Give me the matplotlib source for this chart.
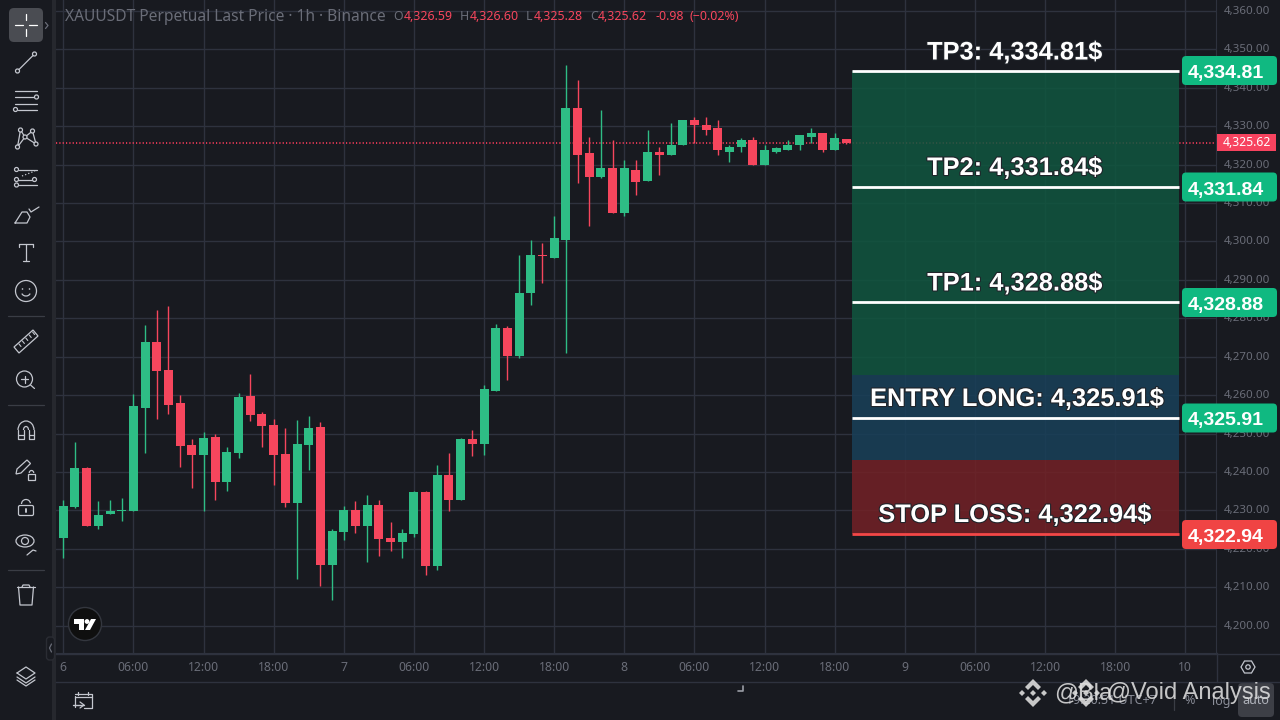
import matplotlib
matplotlib.use('Agg')
import matplotlib.pyplot as plt
import matplotlib.patheffects as pe
from matplotlib.patches import FancyBboxPatch, Rectangle, Circle, Polygon, Ellipse, Arc
from matplotlib.transforms import ScaledTranslation

# candles (1h bars)
opens = [4222.9, 4230.9, 4241.1, 4226.0, 4229.1, 4229.9, 4229.9, 4256.7, 4273.9, 4266.6,
         4258.0, 4247.1, 4244.5, 4249.2, 4237.4, 4245.0, 4259.8, 4255.1, 4252.3, 4244.7,
         4232.0, 4247.1, 4251.7, 4215.8, 4224.4, 4230.1, 4226.0, 4231.5, 4222.9, 4221.8,
         4223.9, 4234.8, 4215.6, 4239.3, 4232.8, 4248.6, 4247.3, 4261.1, 4277.5, 4270.1,
         4286.5, 4296.4, 4295.8, 4300.5, 4334.6, 4322.9, 4316.9, 4319.0, 4307.5, 4318.7,
         4315.6, 4323.4, 4322.4, 4325.0, 4331.5, 4330.4, 4329.4, 4323.4, 4324.5, 4326.5,
         4320.0, 4323.4, 4323.9, 4325.0, 4327.3, 4328.1, 4323.7, 4326.59]
highs = [4232.8, 4247.8, 4241.3, 4232.5, 4232.8, 4233.3, 4260.3, 4278.3, 4282.2, 4283.2,
         4260.1, 4248.6, 4250.5, 4249.9, 4246.5, 4260.6, 4265.5, 4255.7, 4253.8, 4251.5,
         4253.6, 4254.6, 4253.1, 4225.2, 4231.2, 4232.5, 4234.1, 4232.8, 4227.0, 4225.2,
         4235.1, 4235.1, 4241.9, 4245.0, 4248.9, 4250.9, 4262.6, 4278.5, 4278.0, 4296.4,
         4300.5, 4299.5, 4306.5, 4345.8, 4341.9, 4327.3, 4334.3, 4326.3, 4321.1, 4321.3,
         4329.1, 4324.7, 4330.7, 4331.5, 4332.3, 4332.3, 4331.5, 4325.2, 4326.8, 4327.3,
         4325.0, 4324.7, 4326.3, 4327.8, 4329.4, 4328.1, 4328.1, 4326.60]
lows = [4217.7, 4230.7, 4226.0, 4225.2, 4229.1, 4227.3, 4229.9, 4245.0, 4253.8, 4255.1,
        4241.3, 4235.9, 4229.9, 4232.8, 4235.1, 4243.7, 4253.3, 4246.5, 4236.7, 4230.9,
        4212.2, 4240.6, 4210.4, 4206.7, 4222.4, 4224.2, 4216.6, 4218.2, 4219.5, 4217.7,
        4223.1, 4213.2, 4214.5, 4229.9, 4232.8, 4244.2, 4244.4, 4261.1, 4264.0, 4269.6,
        4283.4, 4289.1, 4295.8, 4271.1, 4315.1, 4303.9, 4316.4, 4307.3, 4306.5, 4312.0,
        4315.6, 4317.2, 4322.4, 4325.0, 4325.5, 4327.8, 4322.6, 4320.6, 4323.4, 4319.8,
        4319.8, 4322.9, 4323.9, 4323.9, 4325.5, 4323.4, 4323.7, 4325.28]
closes = [4231.2, 4241.1, 4226.0, 4228.9, 4229.9, 4230.1, 4257.2, 4273.9, 4266.3, 4257.5,
          4246.8, 4244.5, 4248.9, 4237.4, 4245.2, 4259.6, 4254.9, 4252.0, 4244.5, 4232.0,
          4247.3, 4251.5, 4215.8, 4224.7, 4230.1, 4226.0, 4231.5, 4222.6, 4221.8, 4224.2,
          4234.8, 4215.6, 4239.3, 4232.8, 4248.6, 4247.3, 4261.6, 4277.5, 4270.2, 4286.7,
          4296.4, 4296.1, 4300.8, 4334.6, 4322.4, 4316.9, 4319.0, 4307.5, 4319.0, 4315.4,
          4323.4, 4322.4, 4325.2, 4331.5, 4330.2, 4329.1, 4323.9, 4324.7, 4326.5, 4320.0,
          4323.7, 4324.2, 4325.2, 4327.6, 4328.1, 4323.7, 4326.8, 4325.62]
last_price = 4325.62

price_ticks = list(range(4200, 4370, 10))
time_pos = list(range(0, 102, 6))
time_labels = ['6', '06:00', '12:00', '18:00', '7', '06:00', '12:00', '18:00', '8',
               '06:00', '12:00', '18:00', '9', '06:00', '12:00', '18:00', '10']

# trade levels: where they sit on the price scale and what they are labelled
level_pos = [4344.4, 4314.2, 4284.2, 4254.1, 4223.9]
level_names = ['TP3', 'TP2', 'TP1', 'ENTRY LONG', 'STOP LOSS']
level_text = ['4,334.81', '4,331.84', '4,328.88', '4,325.91', '4,322.94']
zone_edges = [4344.4, 4265.3, 4243.1, 4223.9]

BG = '#181a20'
GRID = '#2e323e'
UP = '#2ebd85'
DOWN = '#f6465d'
MUTED = '#6a6d78'
ICON = '#c4c7cf'
FONT = 'Noto Sans'

fig = plt.figure(figsize=(12.8, 7.2), dpi=100, facecolor=BG)

# pixel box of the price pane
left, right, bottom = 56, 1216.3, 653.3
ax = fig.add_axes([left / 1280, (720 - bottom) / 720, (right - left) / 1280, bottom / 720])
ax.set_facecolor(BG)
x0, step = 63.3, 11.6875
ax.set_xlim((left - x0) / step, (right - x0) / step)
ax.set_ylim(4350 - (bottom - 49.3) / 3.843, 4350 + 49.3 / 3.843)

ax.set_axisbelow(True)
ax.grid(True, color=GRID, lw=1)
for s in ax.spines.values():
    s.set_visible(False)
ax.spines['right'].set_visible(True)
ax.spines['right'].set_color(GRID)
ax.spines['bottom'].set_visible(True)
ax.spines['bottom'].set_color(GRID)

ax.set_xticks(time_pos, time_labels, color=MUTED, fontsize=8.8, fontfamily=FONT)
ax.tick_params(axis='x', length=0, pad=5.5)
ax.yaxis.tick_right()
ax.set_yticks(price_ticks, [f'{p:,.2f}' for p in price_ticks], color=MUTED,
              fontsize=8.3, fontfamily=FONT, ha='right')
ax.tick_params(axis='y', length=0, pad=39)
# the price labels sit a little above their grid lines
nudge = ScaledTranslation(0, 1.0 / 100, fig.dpi_scale_trans)
for lab in ax.get_yticklabels():
    lab.set_transform(lab.get_transform() + nudge)

# candles
for i in range(len(opens)):
    c = UP if closes[i] >= opens[i] else DOWN
    ax.vlines(i, lows[i], highs[i], color=c, lw=1, zorder=3)
    ax.bar(i, max(abs(closes[i] - opens[i]), 0.3), bottom=min(opens[i], closes[i]),
           width=0.77, color=c, zorder=4)

# last price line
ax.axhline(last_price, color='#ff3d5c', lw=1.2, ls=(0, (0.7, 1.3)), zorder=2)

# position boxes, translucent so the grid shows through
box_l = (852 - x0) / step
box_r = (1179 - x0) / step
zone_colors = ['#10563f', '#184059', '#732126']
for i in range(3):
    ax.fill_between([box_l, box_r], zone_edges[i + 1], zone_edges[i], color=zone_colors[i],
                    alpha=0.85, lw=0, zorder=5)
for i in range(5):
    ax.hlines(level_pos[i], box_l, box_r, color='white' if i < 4 else '#f44747', lw=2, zorder=6)

# everything else is drawn in pixels on a full size overlay
ui = fig.add_axes([0, 0, 1, 1], zorder=10)
ui.set_xlim(0, 1280)
ui.set_ylim(720, 0)
ui.axis('off')
ui.patch.set_alpha(0)

label_ys = [59.5, 175, 290.5, 406, 522]
label_xs = [1014.7, 1014.7, 1014.7, 1017, 1014.7]
badge_ys = [70.5, 187, 302.5, 418, 534.5]
for i in range(5):
    ui.text(label_xs[i], label_ys[i], f'{level_names[i]}: {level_text[i]}$', color='white',
            fontsize=18.3, fontweight='bold', family='Liberation Sans', ha='center', va='baseline',
            path_effects=[pe.withStroke(linewidth=1.6, foreground='#20242a')])
    col = '#10b981' if i < 4 else '#f04444'
    ui.add_patch(FancyBboxPatch((1184, badge_ys[i] - 12.5), 91, 25,
                                boxstyle='round,pad=2,rounding_size=4', fc=col, ec='none'))
    ui.text(1188, badge_ys[i] + 3, level_text[i], color='white', fontsize=14,
            fontweight='bold', family='Liberation Sans', ha='left', va='center')

# last price tag
ui.add_patch(Rectangle((1217, 134), 59, 16.8, fc='#f7435f', ec='none'))
ui.text(1246.5, 142.6, f'{last_price:,.2f}', color='white', fontsize=8.8, fontweight='bold',
        family=FONT, ha='center', va='center')

# header
ui.text(65, 17, 'XAUUSDT Perpetual Last Price · 1h · Binance', color=MUTED, fontsize=11.2,
        family=FONT, ha='left', va='center')
header = [(393, 'O', MUTED), (404, '4,326.59', DOWN), (460, 'H', MUTED), (470, '4,326.60', DOWN),
          (526, 'L', MUTED), (534, '4,325.28', DOWN), (590, 'C', MUTED), (598, '4,325.62', DOWN),
          (656, '-0.98', DOWN), (690, '(−0.02%)', DOWN)]
for hx, htxt, hcol in header:
    ui.text(hx, 16, htxt, color=hcol, fontsize=8.9, family=FONT, ha='left', va='center')

# toolbar frame
ui.add_patch(Rectangle((52, 0), 4, 720, fc='#26282e', ec='none'))
ui.plot([56, 1280], [653.5, 653.5], color=GRID, lw=1)
ui.plot([56, 1280], [681.5, 681.5], color=GRID, lw=1)
ui.plot([1216.5, 1216.5], [653, 681.5], color=GRID, lw=1)


def ln(xs, ys, lw=0.9, c=ICON, **kw):
    ui.plot(xs, ys, color=c, lw=lw, solid_capstyle='round', **kw)


def dot(x, y, r=2.0):
    ui.add_patch(Circle((x, y), r, fc=BG, ec=ICON, lw=0.9, zorder=5))


def diamond(cx, cy, r, **kw):
    ui.add_patch(Polygon([(cx - r, cy), (cx, cy - r), (cx + r, cy), (cx, cy + r)], closed=True, **kw))


# selected crosshair button
ui.add_patch(FancyBboxPatch((12, 11), 28, 28, boxstyle='round,pad=3,rounding_size=5',
                            fc='#4a4c52', ec='none'))
for a, b in [((15, 23), (25, 25)), ((29, 37), (25, 25))]:
    ln(a, b, c='white')
for a, b in [((26, 26), (14, 20)), ((26, 26), (29, 36))]:
    ln(a, b, c='white')
ln([45.5, 48, 45.5], [22.5, 25.5, 28.5], c='#6a6d78')

# line
ln([17.5, 34.5], [71, 54])
dot(17.5, 71)
dot(34.5, 54)
# fib
ln([15, 37], [91, 91])
ln([15, 35], [97, 97])
ln([15, 37], [103.5, 103.5])
ln([18, 37], [109.5, 109.5])
dot(36.5, 97)
dot(15.5, 109.5)
# pattern
px = [17.5, 20.5, 25, 32.5, 36, 25, 17.5]
py = [147, 130, 137, 131, 144, 137, 147]
ln(px, py)
for a, b in zip(px[:5], py[:5]):
    dot(a, b)
# forecast
ln([19, 37], [169.5, 169.5])
ln([16, 35], [179.5, 179.5])
ln([19, 37], [185, 185])
ln([22, 35], [176, 171], ls=':')
for a, b in [(16.5, 169.5), (16.5, 179.5), (34.5, 179.5), (16.5, 185)]:
    dot(a, b)
# brush
ln([15, 27, 30, 27, 22, 15], [223, 223, 217, 212, 212, 223])
ln([29, 31, 39], [209, 212, 207])
# text
ln([19, 33], [244, 244])
ln([26, 26], [244, 261])
ln([23, 29], [261, 261])
ln([19, 19], [244, 247])
ln([33, 33], [244, 247])
# emoji
ui.add_patch(Circle((26, 291), 10.5, fc='none', ec=ICON, lw=0.9))
ui.add_patch(Circle((22.5, 289), 0.8, fc=ICON, ec='none'))
ui.add_patch(Circle((29.5, 289), 0.8, fc=ICON, ec='none'))
ui.add_patch(Arc((26, 292), 9, 8, theta1=20, theta2=160, ec=ICON, lw=0.9))
ln([8, 44], [316, 316], c='#3a3d45')
# ruler
ui.add_patch(Polygon([(14, 347), (33, 330), (38, 336), (19, 353)], closed=True, fc='none', ec=ICON, lw=0.9))
for t in range(5):
    ln([19 + t * 3.4, 21 + t * 3.4], [344 - t * 3, 346.5 - t * 3], lw=0.8)
# zoom
ui.add_patch(Circle((24.5, 379), 8, fc='none', ec=ICON, lw=0.9))
ln([21, 28], [379, 379])
ln([24.5, 24.5], [375.5, 382.5])
ln([30.5, 34.5], [385, 388.5])
ln([8, 44], [405, 405], c='#3a3d45')
# magnet
ui.add_patch(Arc((26, 430), 16, 18, theta1=180, theta2=360, ec=ICON, lw=0.9))
ui.add_patch(Arc((26, 430), 5, 7, theta1=180, theta2=360, ec=ICON, lw=0.9))
ln([18, 18, 23.5, 23.5], [430, 439, 439, 430])
ln([28.5, 28.5, 34, 34], [430, 439, 439, 430])
ln([18, 23.5], [435, 435])
ln([28.5, 34], [435, 435])
# pencil with lock
ui.add_patch(Polygon([(16, 474), (17, 469), (27, 460), (30.5, 463.5), (21, 473)], closed=True,
                     fc='none', ec=ICON, lw=0.9))
ui.add_patch(Rectangle((28, 474), 7, 5.5, fc='none', ec=ICON, lw=0.9))
ui.add_patch(Arc((31.5, 473), 4.5, 5, theta1=180, theta2=360, ec=ICON, lw=0.9))
# unlock
ui.add_patch(FancyBboxPatch((19, 506), 14, 9, boxstyle='round,pad=0.5,rounding_size=1.5',
                            fc='none', ec=ICON, lw=0.9))
ui.add_patch(Arc((26, 504), 9, 9, theta1=180, theta2=350, ec=ICON, lw=0.9))
ln([26, 26], [509, 511.5], lw=1.4)
# eye
ui.add_patch(Ellipse((25, 541), 18, 12, fc='none', ec=ICON, lw=0.9))
ui.add_patch(Circle((25, 541), 3.5, fc='none', ec=ICON, lw=0.9))
ln([27, 33, 36], [555, 550, 551], lw=0.9)
ln([8, 44], [570, 570], c='#3a3d45')
# trash
ln([17, 35], [587, 587])
ln([22, 23, 29, 30], [587, 585, 585, 587])
ln([18.5, 20, 32, 33.5], [587, 605, 605, 587])
# collapse handle
ui.add_patch(FancyBboxPatch((47.5, 638), 6, 21, boxstyle='round,pad=1,rounding_size=3', fc=BG,
                            ec='#2a2c33', lw=1))
ln([51.5, 49.5, 51.5], [644, 648, 652], c='#6a6d78')
# layers
ln([17, 26, 35, 26, 17], [673, 667, 673, 679, 673])
ln([17, 26, 35], [677, 683, 677])
ln([17, 26, 35], [680, 686, 680])
# replay calendar
ln([75, 75], [707, 696])
ln([75, 92, 92, 84], [694, 694, 708, 708])
ln([75, 92], [697, 697])
ln([78, 78], [692, 695])
ln([88, 88], [692, 695])
ln([73, 84], [705, 705], lw=1)
ln([80, 84, 80], [702, 705, 708])

# tradingview badge
ui.add_patch(Circle((85, 624), 16.5, fc='#0f0f0f', ec='#34373f', lw=1))
ui.add_patch(Polygon([(74, 619), (84, 619), (84, 630), (79, 630), (79, 624), (74, 624)], closed=True,
                     fc='white', ec='none'))
ui.add_patch(Circle((87, 621.5), 2.4, fc='white', ec='none'))
ui.add_patch(Polygon([(91, 619), (96, 619), (90, 630), (85, 630)], closed=True, fc='white', ec='none'))

# corner tick on the time scale and settings icon
ln([738, 743, 743], [691, 691, 686], lw=1.2, c='#9a9da6')
ui.add_patch(Polygon([(1241, 667), (1244.5, 661), (1251.5, 661), (1255, 667), (1251.5, 673), (1244.5, 673)],
                     closed=True, fc='none', ec=ICON, lw=0.9))
ui.add_patch(Circle((1248, 667), 2.2, fc='none', ec=ICON, lw=0.9))

# bottom bar under the watermark
BAR = '#8a8d98'
ui.text(1066, 701, '19:20:51 UTC+7', color=BAR, fontsize=9, family=FONT, ha='left', va='center')
ln([1174, 1174], [692, 710], c='#3a3d45')
ui.text(1190, 701, '%', color=BAR, fontsize=9, family=FONT, ha='center', va='center')
ui.text(1221, 701, 'log', color=BAR, fontsize=9, family=FONT, ha='center', va='center')
ui.add_patch(FancyBboxPatch((1240, 685), 32, 30, boxstyle='round,pad=2,rounding_size=4',
                            fc='#3d3f46', ec='none'))
ui.text(1256, 701, 'auto', color='#b0b3bb', fontsize=9, family=FONT, ha='center', va='center')

# doubled Binance watermark
WM = dict(fc='#dcdcdc', ec='none', alpha=0.9, zorder=8)
for wx, wtxt, wstart in [(1033, '@Bla', 1054), (1086, '@Void Analysis', 1107)]:
    wy = 693
    ui.add_patch(Polygon([(wx, wy - 14), (wx + 8, wy - 6), (wx + 5, wy - 3), (wx, wy - 8), (wx - 5, wy - 3),
                          (wx - 8, wy - 6)], closed=True, **WM))
    ui.add_patch(Polygon([(wx, wy + 14), (wx + 8, wy + 6), (wx + 5, wy + 3), (wx, wy + 8), (wx - 5, wy + 3),
                          (wx - 8, wy + 6)], closed=True, **WM))
    diamond(wx - 11, wy, 3, **WM)
    diamond(wx + 11, wy, 3, **WM)
    diamond(wx, wy, 3, **WM)
    ui.text(wstart, 693, wtxt, color='#e4e4e4', alpha=0.85, fontsize=17, family='Liberation Sans',
            ha='left', va='center', zorder=8)

fig.savefig('out.png', dpi=100, facecolor=BG)
